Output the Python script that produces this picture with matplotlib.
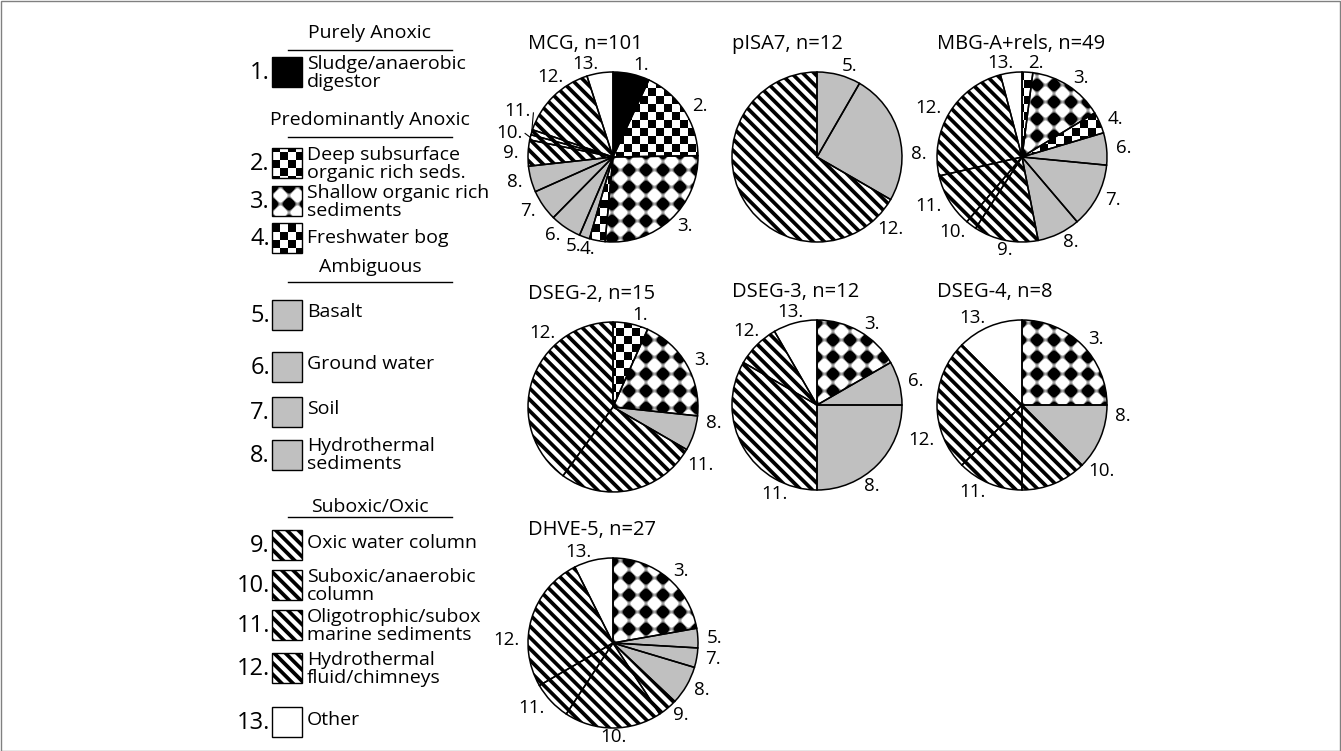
import numpy as np
import matplotlib.pyplot as plt
from matplotlib.patches import Rectangle

plt.rcParams['font.family'] = ['Open Sans', 'DejaVu Sans']

W, H = 1341, 751
R = 85  # pie radius in pixels

# ---------------- data ----------------
legend_groups = ['Purely Anoxic', 'Predominantly Anoxic', 'Ambiguous', 'Suboxic/Oxic']

category_names = ['Sludge/anaerobic\ndigestor', 'Deep subsurface\norganic rich seds.',
                  'Shallow organic rich\nsediments', 'Freshwater bog', 'Basalt',
                  'Ground water', 'Soil', 'Hydrothermal\nsediments', 'Oxic water column',
                  'Suboxic/anaerobic\ncolumn', 'Oligotrophic/subox\nmarine sediments',
                  'Hydrothermal\nfluid/chimneys', 'Other']
category_fill = ['black', 'checker', 'diamond', 'checker', 'gray', 'gray', 'gray', 'gray',
                 'stripe', 'stripe', 'stripe', 'stripe', 'white']

mcg_cats = [1, 2, 3, 4, 5, 6, 7, 8, 9, 10, 11, 12, 13]
mcg_counts = [7, 18, 27, 3, 2, 6, 6, 5, 5, 1, 1, 15, 5]

pisa7_cats = [5, 8, 12]
pisa7_counts = [1, 3, 8]

mbg_cats = [2, 3, 4, 6, 7, 8, 9, 10, 11, 12, 13]
mbg_counts = [1, 7, 2, 3, 6, 4, 6, 1, 5, 12, 2]

dseg2_cats = [2, 3, 8, 11, 12]
dseg2_counts = [1, 3, 1, 4, 6]
dseg2_labels = ['1.', '3.', '8.', '11.', '12.']   # first slice is labelled "1." in the original

dseg3_cats = [3, 6, 8, 11, 12, 13]
dseg3_counts = [2, 1, 3, 4, 1, 1]

dseg4_cats = [3, 8, 10, 11, 12, 13]
dseg4_counts = [2, 1, 1, 1, 2, 1]

dhve5_cats = [3, 5, 7, 8, 9, 10, 11, 12, 13]
dhve5_counts = [6, 1, 1, 2, 1, 5, 2, 7, 2]


def num_labels(cats):
    return [f'{c}.' for c in cats]


# title, categories, counts, labels, centre (px, y down), label angle overrides, leader lines
pies = [
    ('MCG, n=101', mcg_cats, mcg_counts, num_labels(mcg_cats), (613, 157),
     {9: 285, 10: 299, 11: 328}, [9, 10]),
    ('pISA7, n=12', pisa7_cats, pisa7_counts, num_labels(pisa7_cats), (817, 157),
     {1: 88, 2: 140}, []),
    ('MBG-A+rels, n=49', mbg_cats, mbg_counts, num_labels(mbg_cats), (1022, 157),
     {0: 4, 6: 186, 10: 355}, []),
    ('DSEG-2, n=15', dseg2_cats, dseg2_counts, dseg2_labels, (613, 407),
     {2: 100, 3: 128, 4: 322}, []),
    ('DSEG-3, n=12', dseg3_cats, dseg3_counts, num_labels(dseg3_cats), (817, 405),
     {2: 150, 3: 198, 4: 322, 5: 352}, []),
    ('DSEG-4, n=8', dseg4_cats, dseg4_counts, num_labels(dseg4_cats), (1022, 405),
     {1: 97, 2: 135, 4: 248}, []),
    ('DHVE-5, n=27', dhve5_cats, dhve5_counts, num_labels(dhve5_cats), (613, 643),
     {7: 272}, []),
]


def pattern(kind, x0, y0, w, h):
    """grey-level fill (0 black .. 1 white) on a pixel grid, y pointing down"""
    xx, yy = np.meshgrid(np.arange(x0, x0 + w) + 0.5, np.arange(y0, y0 + h) + 0.5)
    if kind == 'black':
        return np.zeros_like(xx)
    if kind == 'white':
        return np.ones_like(xx)
    if kind == 'gray':
        return np.full_like(xx, 0.75)
    if kind == 'checker':
        s = 8
        return (np.floor(xx / s) + np.floor(yy / s)) % 2
    if kind == 'diamond':
        p = 17
        v = np.cos(2 * np.pi * xx / p) + np.cos(2 * np.pi * yy / p)
        return np.clip(0.5 - 1.3 * (v - 0.1), 0, 1)
    # diagonal "\" stripes
    p = 8
    v = np.cos(2 * np.pi * (xx - yy) / (p * np.sqrt(2)))
    return np.clip(0.5 + 1.3 * (v + 0.1), 0, 1)


def fill_image(ax, kind, x0, y0, w, h, clip=None):
    img = pattern(kind, x0, y0, w, h)
    im = ax.imshow(img, cmap='gray', vmin=0, vmax=1, origin='upper',
                   extent=(x0, x0 + w, H - (y0 + h), H - y0),
                   interpolation='nearest', zorder=1)
    if clip is not None:
        im.set_clip_path(clip)
    return im


fig = plt.figure(figsize=(W / 100, H / 100), dpi=100)
ax = fig.add_axes([0, 0, 1, 1])

# ---------------- legend ----------------
header_y = [33, 120, 267, 507]
underline_y = [50, 137, 282, 517]
swatch_top = [57, 148, 186, 223, 300, 352, 397, 440, 530, 570, 610, 653, 707]
text_shift = [1, 1, 1, 0, -3, -3, -3, 0, -2, 1, 1, 1, -2]

for g, name in enumerate(legend_groups):
    ax.text(370, H - header_y[g], name, ha='center', va='center', fontsize=14)
    ax.plot([288, 452], [H - underline_y[g]] * 2, color='black', lw=1)

for i, name in enumerate(category_names):
    top = swatch_top[i]
    fill_image(ax, category_fill[i], 272, top, 30, 30)
    ax.add_patch(Rectangle((272, H - top - 30), 30, 30, facecolor='none',
                           edgecolor='black', lw=1, zorder=2))
    ax.text(270, H - top - 16, f'{i + 1}.', ha='right', va='center', fontsize=17)
    ax.text(307, H - top - 15 - text_shift[i], name, ha='left', va='center',
            fontsize=14, linespacing=0.95)

# ---------------- pies ----------------
for title, cats, counts, labels, (cx, cy), angle_fix, leaders in pies:
    cyd = H - cy
    wedges, _ = ax.pie(counts, center=(cx, cyd), radius=R, startangle=90,
                       counterclock=False, frame=True,
                       wedgeprops=dict(facecolor='none', edgecolor='black', linewidth=1.1))
    for wdg, c in zip(wedges, cats):
        fill_image(ax, category_fill[c - 1], cx - R - 2, cy - R - 2, 2 * R + 4, 2 * R + 4,
                   clip=wdg)
        wdg.set_zorder(3)

    total = sum(counts)
    cum = np.cumsum(counts)
    for k, lab in enumerate(labels):
        mid = 360.0 * (cum[k] - counts[k] / 2) / total
        ang = np.radians(angle_fix.get(k, mid))
        lx = cx + (R + 9) * np.sin(ang)
        ly = cy - (R + 9) * np.cos(ang)
        s = np.sin(ang)
        ha = 'left' if s > 0.05 else ('right' if s < -0.05 else 'center')
        ax.text(lx, H - ly, lab, ha=ha, va='center', fontsize=13.5)
        if k in leaders:
            m = np.radians(mid)
            ax.plot([cx + (R + 6) * np.sin(ang), cx + R * np.sin(m)],
                    [H - (cy - (R + 6) * np.cos(ang)), H - (cy - R * np.cos(m))],
                    color='black', lw=0.8)

    ax.text(cx - R, H - (cy - 113), title, ha='left', va='center', fontsize=14.5)

# frame around the figure
ax.add_patch(Rectangle((0.5, 0.5), W - 1, H - 1, facecolor='none', edgecolor='#808080', lw=1))

ax.set_xlim(0, W)
ax.set_ylim(0, H)
ax.set_aspect('equal')
ax.axis('off')

fig.savefig('out.png', dpi=100)
